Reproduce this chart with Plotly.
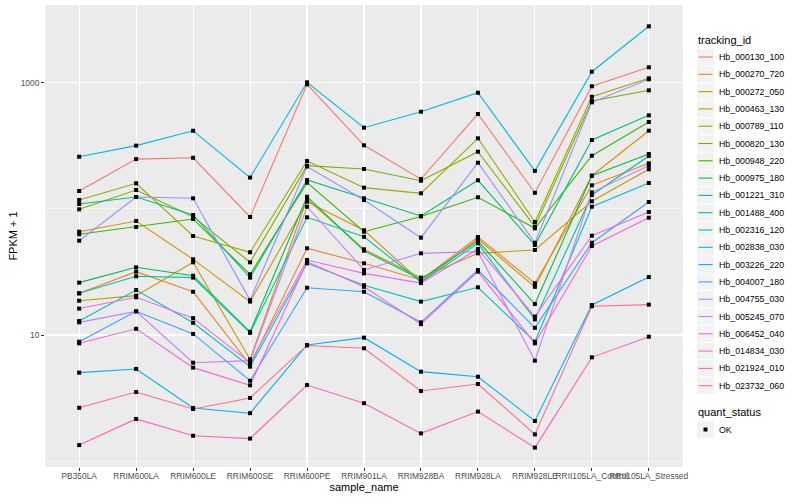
import plotly.graph_objects as go

# ---------------- data ----------------
samples = ["PB350LA", "RRIM600LA", "RRIM600LE", "RRIM600SE", "RRIM600PE", "RRIM901LA",
           "RRIM928BA", "RRIM928LA", "RRIM928LE", "RRII105LA_Control", "RRII105LA_Stressed"]

tracking_ids = ["Hb_000130_100", "Hb_000270_720", "Hb_000272_050", "Hb_000463_130",
                "Hb_000789_110", "Hb_000820_130", "Hb_000948_220", "Hb_000975_180",
                "Hb_001221_310", "Hb_001488_400", "Hb_002316_120", "Hb_002838_030",
                "Hb_003226_220", "Hb_004007_180", "Hb_004755_030", "Hb_005245_070",
                "Hb_006452_040", "Hb_014834_030", "Hb_021924_010", "Hb_023732_060"]

colors = ["#F8766D", "#EA8331", "#D89000", "#C09B00", "#A3A500", "#7CAE00", "#39B600",
          "#00BB4E", "#00BF7D", "#00C1A3", "#00BFC4", "#00BAE0", "#00B0F6", "#35A2FF",
          "#9590FF", "#C77CFF", "#E76BF3", "#FA62DB", "#FF62BC", "#FF6C91"]

# FPKM + 1 per sample (in the order of `samples`)
hb_000130_100 = [138.5, 248, 254, 86.2, 971, 319, 172, 565, 134, 937, 1325]
hb_000270_720 = [21.4, 31.8, 22.0, 5.78, 48.7, 37.0, 27.3, 59.8, 25.7, 153.7, 229.7]
hb_000272_050 = [65.9, 80.1, 39.8, 18.4, 114.0, 67.6, 26.5, 57.7, 24.1, 183.1, 416.4]
hb_000463_130 = [18.7, 20.5, 37.7, 6.42, 119.7, 47.8, 28.5, 44.4, 47.2, 114.8, 205.8]
hb_000789_110 = [117.6, 159.4, 60.9, 45.3, 239.5, 147.2, 132.8, 362.5, 78.7, 774.5, 1084]
hb_000820_130 = [99.2, 141.1, 86.7, 37.7, 219.9, 207.0, 167.2, 283.8, 72.2, 716, 870.4]
hb_000948_220 = [62.9, 71.8, 83.1, 30.3, 161.2, 65.9, 87.0, 123.5, 70.1, 263.9, 488.1]
hb_000975_180 = [26.0, 34.4, 29.5, 10.6, 124.8, 46.6, 27.6, 55.6, 17.6, 183.1, 272.1]
hb_001221_310 = [109.2, 124.1, 89.4, 28.5, 169.3, 121.2, 87.8, 168.4, 51.7, 351.4, 551.4]
hb_001488_400 = [21.4, 29.2, 28.5, 10.4, 85.7, 60.1, 26.3, 53.3, 13.3, 128.8, 262.4]
hb_002316_120 = [12.9, 22.7, 12.5, 5.61, 37.0, 24.8, 18.4, 23.9, 8.85, 104.0, 160.3]
hb_002838_030 = [259, 317, 416, 177, 1007, 440, 589, 833, 200, 1222, 2800]
hb_003226_220 = [5.03, 5.38, 2.64, 2.40, 8.33, 9.52, 5.12, 4.67, 2.08, 17.3, 28.8]
hb_004007_180 = [8.85, 15.4, 10.2, 4.34, 23.7, 22.0, 12.6, 32.7, 11.4, 53.9, 113.3]
hb_004755_030 = [55.9, 124.1, 121.2, 18.9, 216.6, 117.6, 59.1, 232.1, 53.9, 699.3, 1064]
hb_005245_070 = [12.6, 15.4, 6.03, 6.26, 104.0, 32.8, 44.4, 45.8, 6.26, 135.3, 219.9]
hb_006452_040 = [16.2, 19.9, 13.6, 6.03, 39.3, 30.8, 25.8, 48.1, 14.0, 61.3, 94.4]
hb_014834_030 = [8.59, 11.2, 5.51, 3.99, 38.1, 24.1, 12.2, 31.8, 8.59, 50.8, 85.1]
hb_021924_010 = [1.34, 2.16, 1.59, 1.51, 4.01, 2.88, 1.66, 2.47, 1.28, 6.65, 9.69]
hb_023732_060 = [2.65, 3.53, 2.59, 3.17, 8.26, 7.85, 3.60, 4.09, 1.63, 16.9, 17.4]

quant_status = ["OK"]
y_tick_values = [10, 1000]
y_tick_labels = ["10", "1000"]
y_minor_values = [1, 100]

series_values = [hb_000130_100, hb_000270_720, hb_000272_050, hb_000463_130, hb_000789_110,
                 hb_000820_130, hb_000948_220, hb_000975_180, hb_001221_310, hb_001488_400,
                 hb_002316_120, hb_002838_030, hb_003226_220, hb_004007_180, hb_004755_030,
                 hb_005245_070, hb_006452_040, hb_014834_030, hb_021924_010, hb_023732_060]

# ---------------- figure ----------------
W, H = 800, 500
ML, MR, MT, MB = 45, 117, 5, 33
PW, PH = W - ML - MR, H - MT - MB
FONT = "Liberation Sans, Arial, Helvetica, sans-serif"

fig = go.Figure()

for name, col, vals in zip(tracking_ids, colors, series_values):
    fig.add_trace(go.Scatter(x=samples, y=vals, mode="lines", name=name,
                             line=dict(color=col, width=1.1), showlegend=False,
                             hovertemplate=name + "<br>%{x}: %{y}<extra></extra>"))

for name, vals in zip(tracking_ids, series_values):
    fig.add_trace(go.Scatter(x=samples, y=vals, mode="markers", name=quant_status[0],
                             marker=dict(symbol="square", size=4, color="black"),
                             showlegend=False, hoverinfo="skip"))


def px_x(x):
    return (x - ML) / PW


def px_y(y):
    return (H - MB - y) / PH


shapes = []
annotations = []

# legend: tracking_id
annotations.append(dict(text="tracking_id", x=px_x(696), y=px_y(40.5), xref="paper", yref="paper",
                        xanchor="left", yanchor="middle", showarrow=False,
                        font=dict(family=FONT, size=11, color="black")))
for k, (name, col) in enumerate(zip(tracking_ids, colors)):
    cy = 57 + 17.3 * k
    shapes.append(dict(type="rect", xref="paper", yref="paper",
                       x0=px_x(697), x1=px_x(714), y0=px_y(cy - 8.2), y1=px_y(cy + 8.2),
                       fillcolor="#F2F2F2", line=dict(width=0), layer="above"))
    shapes.append(dict(type="line", xref="paper", yref="paper",
                       x0=px_x(698.5), x1=px_x(712.5), y0=px_y(cy), y1=px_y(cy),
                       line=dict(color=col, width=1.1), layer="above"))
    annotations.append(dict(text=name, x=px_x(716.5), y=px_y(cy), xref="paper", yref="paper",
                            xanchor="left", yanchor="middle", showarrow=False,
                            font=dict(family=FONT, size=8.8, color="black")))

# legend: quant_status
annotations.append(dict(text="quant_status", x=px_x(696), y=px_y(412), xref="paper", yref="paper",
                        xanchor="left", yanchor="middle", showarrow=False,
                        font=dict(family=FONT, size=11, color="black")))
cy = 429.5
shapes.append(dict(type="rect", xref="paper", yref="paper",
                   x0=px_x(697), x1=px_x(714), y0=px_y(cy - 8.2), y1=px_y(cy + 8.2),
                   fillcolor="#F2F2F2", line=dict(width=0), layer="above"))
shapes.append(dict(type="rect", xref="paper", yref="paper",
                   x0=px_x(703.5), x1=px_x(707.5), y0=px_y(cy - 2), y1=px_y(cy + 2),
                   fillcolor="black", line=dict(width=0), layer="above"))
annotations.append(dict(text=quant_status[0], x=px_x(716.5), y=px_y(cy), xref="paper", yref="paper",
                        xanchor="left", yanchor="middle", showarrow=False,
                        font=dict(family=FONT, size=8.8, color="black")))

fig.update_layout(
    width=W, height=H, autosize=False,
    margin=dict(l=ML, r=MR, t=MT, b=MB, pad=0),
    paper_bgcolor="white", plot_bgcolor="#EBEBEB",
    font=dict(family=FONT, color="black"),
    showlegend=False,
    shapes=shapes, annotations=annotations,
    xaxis=dict(type="category", categoryorder="array", categoryarray=samples,
               range=[-0.6, len(samples) - 0.4],
               showgrid=True, gridcolor="white", gridwidth=1.1, zeroline=False, showline=False,
               ticks="outside", ticklen=3, tickwidth=1, tickcolor="#333333",
               tickfont=dict(family=FONT, size=8.4, color="#4D4D4D"), tickangle=0,
               ticklabelstandoff=-2,
               title=dict(text="sample_name", font=dict(family=FONT, size=11, color="black"),
                          standoff=3),
               automargin=False, fixedrange=True),
    yaxis=dict(type="log", range=[-0.0464, 3.616],
               tickmode="array", tickvals=y_tick_values, ticktext=y_tick_labels,
               showgrid=True, gridcolor="white", gridwidth=1.1, zeroline=False, showline=False,
               ticks="outside", ticklen=3, tickwidth=1, tickcolor="#333333",
               tickfont=dict(family=FONT, size=8.4, color="#4D4D4D"),
               minor=dict(tickmode="array", tickvals=y_minor_values, showgrid=True,
                          gridcolor="white", gridwidth=0.55, ticks=""),
               title=dict(text="FPKM + 1", font=dict(family=FONT, size=11, color="black"),
                          standoff=0),
               automargin=False, fixedrange=True),
)

fig.write_html("out.html", config={"displayModeBar": False, "staticPlot": True},
               post_script="document.body.style.margin='0px';document.body.style.overflow='hidden';")
